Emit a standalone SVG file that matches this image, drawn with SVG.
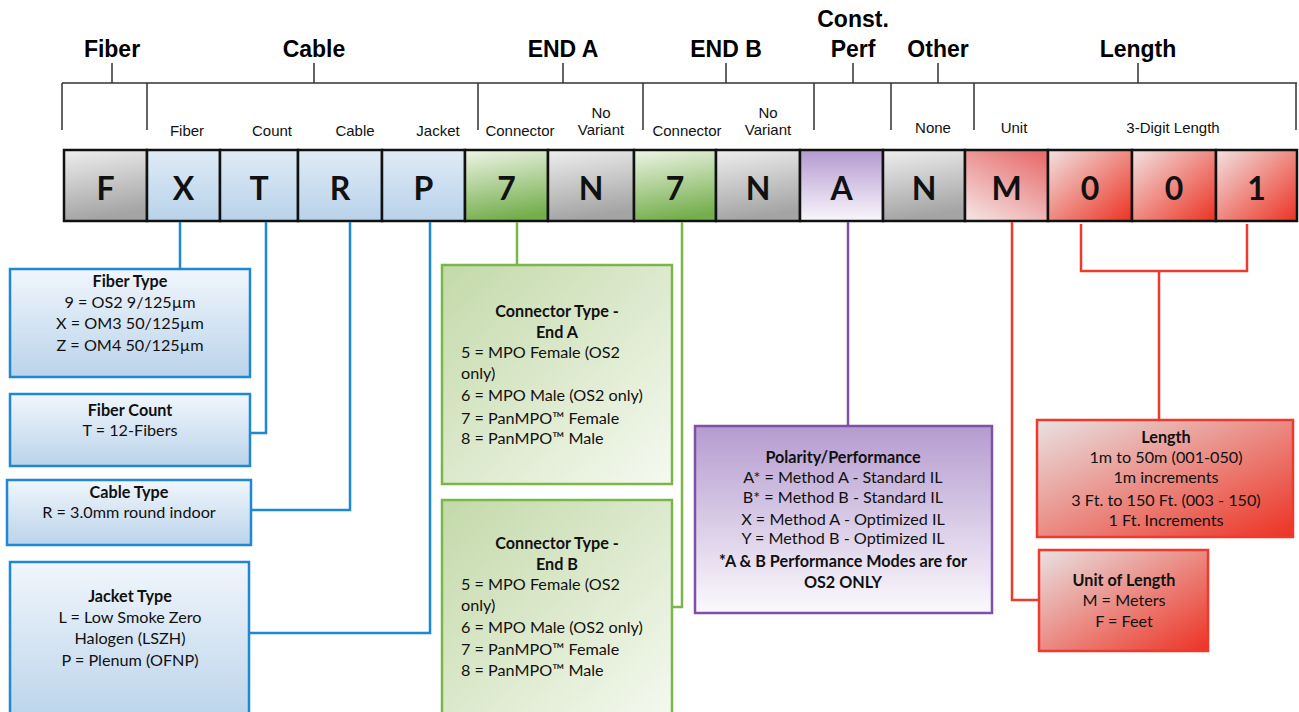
<svg xmlns="http://www.w3.org/2000/svg" width="1299" height="712" viewBox="0 0 1299 712">
<defs>
<linearGradient id="gGray" x1="0" y1="0" x2="0.2" y2="1"><stop offset="0" stop-color="#eeeeee"/><stop offset="1" stop-color="#a4a4a4"/></linearGradient>
<linearGradient id="gBlueC" x1="0" y1="0" x2="0" y2="1"><stop offset="0" stop-color="#dfebf6"/><stop offset="1" stop-color="#b8d2ea"/></linearGradient>
<linearGradient id="gGreenC" x1="0.2" y1="0" x2="0.4" y2="1"><stop offset="0" stop-color="#eaf2e1"/><stop offset="1" stop-color="#74ae4c"/></linearGradient>
<linearGradient id="gPurpleC" x1="0" y1="0" x2="0" y2="1"><stop offset="0" stop-color="#b49ad0"/><stop offset="1" stop-color="#f9f6fc"/></linearGradient>
<linearGradient id="gRedM" x1="0.8" y1="0" x2="0.2" y2="1"><stop offset="0" stop-color="#e86f6f"/><stop offset="1" stop-color="#f4dddd"/></linearGradient>
<linearGradient id="gRedC" x1="0" y1="0" x2="1" y2="1"><stop offset="0" stop-color="#f1e2e2"/><stop offset="1" stop-color="#ec3222"/></linearGradient>
<linearGradient id="gBlueB" x1="0" y1="0" x2="0" y2="1"><stop offset="0" stop-color="#f1f6fc"/><stop offset="1" stop-color="#bad3ea"/></linearGradient>
<linearGradient id="gGreenB" x1="0" y1="0" x2="1" y2="1"><stop offset="0" stop-color="#c3d9a9"/><stop offset="1" stop-color="#f5f9f0"/></linearGradient>
<linearGradient id="gPurpleB" x1="0" y1="0" x2="0" y2="1"><stop offset="0" stop-color="#b59bcf"/><stop offset="1" stop-color="#fbf9fd"/></linearGradient>
<linearGradient id="gRedB" x1="0" y1="0" x2="1" y2="1"><stop offset="0" stop-color="#e8e2e2"/><stop offset="1" stop-color="#ed3223"/></linearGradient>
</defs>
<style>
.hdr{font-family:"Liberation Sans",Arial,sans-serif;font-weight:bold;font-size:23px;fill:#000;text-anchor:middle}
.sub{font-family:"Liberation Sans",Arial,sans-serif;font-size:15px;fill:#111;text-anchor:middle}
.brk{stroke:#333;stroke-width:1.5;fill:none}
.code rect{stroke:#111;stroke-width:2.5}
.code text{font-family:Lato,"Open Sans",sans-serif;font-weight:bold;font-size:32px;fill:#111;text-anchor:middle}
.box text{font-family:Lato,"Open Sans",sans-serif;font-size:16.2px;fill:#111;text-anchor:middle}
.box text.b{font-weight:bold}
.box text.l{text-anchor:start}
.blue{stroke:#1e88d2;stroke-width:2.5}
.green{stroke:#7ab648;stroke-width:2.5}
.purple{stroke:#7e50a8;stroke-width:2.5}
.red{stroke:#ee3a2c;stroke-width:2.5}
.ln{fill:none;stroke-width:2.5}
</style>

<g id="header">
<text class="hdr" x="112" y="57">Fiber</text>
<text class="hdr" x="314" y="57">Cable</text>
<text class="hdr" x="563" y="57">END A</text>
<text class="hdr" x="726" y="57">END B</text>
<text class="hdr" x="853" y="27">Const.</text>
<text class="hdr" x="853" y="57">Perf</text>
<text class="hdr" x="938" y="57">Other</text>
<text class="hdr" x="1138" y="57">Length</text>
<path class="brk" d="M62,83 H1297 M62,83 V130 M147,83 V130 M478,83 V130 M643,83 V130 M814,83 V130 M891,83 V130 M974,83 V130 M1296,83 V130 M112,63 V83 M314,63 V83 M563,63 V83 M726,63 V83 M853,63 V83 M938,63 V83 M1138,63 V83"/>
<text class="sub" x="187" y="136">Fiber</text>
<text class="sub" x="272" y="136">Count</text>
<text class="sub" x="355" y="136">Cable</text>
<text class="sub" x="438" y="136">Jacket</text>
<text class="sub" x="520" y="136">Connector</text>
<text class="sub" x="601" y="118">No</text>
<text class="sub" x="601" y="135">Variant</text>
<text class="sub" x="687" y="136">Connector</text>
<text class="sub" x="768" y="118">No</text>
<text class="sub" x="768" y="135">Variant</text>
<text class="sub" x="933" y="133">None</text>
<text class="sub" x="1014" y="133">Unit</text>
<text class="sub" x="1173" y="133">3-Digit Length</text>
</g>

<g id="code-F" class="code"><rect x="64" y="150" width="83" height="71" fill="url(#gGray)"/><text x="105.5" y="200">F</text></g>
<g id="code-X" class="code"><rect x="147" y="150" width="73" height="71" fill="url(#gBlueC)"/><text x="183.5" y="200">X</text></g>
<g id="code-T" class="code"><rect x="220" y="150" width="78" height="71" fill="url(#gBlueC)"/><text x="259" y="200">T</text></g>
<g id="code-R" class="code"><rect x="298" y="150" width="84" height="71" fill="url(#gBlueC)"/><text x="340" y="200">R</text></g>
<g id="code-P" class="code"><rect x="382" y="150" width="83" height="71" fill="url(#gBlueC)"/><text x="423.5" y="200">P</text></g>
<g id="code-7a" class="code"><rect x="465" y="150" width="83" height="71" fill="url(#gGreenC)"/><text x="506.5" y="200">7</text></g>
<g id="code-Na" class="code"><rect x="548" y="150" width="86" height="71" fill="url(#gGray)"/><text x="591" y="200">N</text></g>
<g id="code-7b" class="code"><rect x="634" y="150" width="82" height="71" fill="url(#gGreenC)"/><text x="675" y="200">7</text></g>
<g id="code-Nb" class="code"><rect x="716" y="150" width="84" height="71" fill="url(#gGray)"/><text x="758" y="200">N</text></g>
<g id="code-A" class="code"><rect x="800" y="150" width="83" height="71" fill="url(#gPurpleC)"/><text x="841.5" y="200">A</text></g>
<g id="code-Nc" class="code"><rect x="883" y="150" width="82" height="71" fill="url(#gGray)"/><text x="924" y="200">N</text></g>
<g id="code-M" class="code"><rect x="965" y="150" width="83" height="71" fill="url(#gRedM)"/><text x="1006.5" y="200">M</text></g>
<g id="code-0a" class="code"><rect x="1048" y="150" width="84" height="71" fill="url(#gRedC)"/><text x="1090" y="200">0</text></g>
<g id="code-0b" class="code"><rect x="1132" y="150" width="84" height="71" fill="url(#gRedC)"/><text x="1174" y="200">0</text></g>
<g id="code-1" class="code"><rect x="1216" y="150" width="81" height="71" fill="url(#gRedC)"/><text x="1256.5" y="200">1</text></g>

<g id="connectors">
<path class="ln blue" d="M180,222 V269"/>
<path class="ln blue" d="M266,222 V433 H250"/>
<path class="ln blue" d="M350,222 V510 H251"/>
<path class="ln blue" d="M430,222 V633 H249"/>
<path class="ln green" d="M517,222 V265"/>
<path class="ln green" d="M682,222 V607 H672"/>
<path class="ln purple" d="M848,222 V426"/>
<path class="ln red" d="M1012,222 V600 H1039"/>
<path class="ln red" d="M1081,224 V271 H1247 V224 M1159,271 V420"/>
</g>

<g id="box-fiber-type" class="box">
<rect class="blue" x="10" y="269" width="240" height="108" fill="url(#gBlueB)"/>
<text class="b" x="130" y="287">Fiber Type</text>
<text x="130" y="308">9 = OS2 9/125µm</text>
<text x="130" y="329">X = OM3 50/125µm</text>
<text x="130" y="351">Z = OM4 50/125µm</text>
</g>
<g id="box-fiber-count" class="box">
<rect class="blue" x="10" y="394" width="240" height="72" fill="url(#gBlueB)"/>
<text class="b" x="130" y="416">Fiber Count</text>
<text x="130" y="436">T = 12-Fibers</text>
</g>
<g id="box-cable-type" class="box">
<rect class="blue" x="7" y="480" width="244" height="65" fill="url(#gBlueB)"/>
<text class="b" x="129" y="498">Cable Type</text>
<text x="129" y="518">R = 3.0mm round indoor</text>
</g>
<g id="box-jacket-type" class="box">
<rect class="blue" x="10" y="562" width="239" height="160" fill="url(#gBlueB)"/>
<text class="b" x="130" y="602">Jacket Type</text>
<text x="130" y="623">L = Low Smoke Zero</text>
<text x="130" y="644">Halogen (LSZH)</text>
<text x="130" y="666">P = Plenum (OFNP)</text>
</g>
<g id="box-conn-a" class="box">
<rect class="green" x="442" y="265" width="230" height="219" fill="url(#gGreenB)"/>
<text class="b" x="557" y="317">Connector Type -</text>
<text class="b" x="557" y="338">End A</text>
<text class="l" x="461" y="358">5 = MPO Female (OS2</text>
<text class="l" x="461" y="379">only)</text>
<text class="l" x="461" y="401">6 = MPO Male (OS2 only)</text>
<text class="l" x="461" y="424">7 = PanMPO™ Female</text>
<text class="l" x="461" y="444">8 = PanMPO™ Male</text>
</g>
<g id="box-conn-b" class="box">
<rect class="green" x="442" y="500" width="230" height="222" fill="url(#gGreenB)"/>
<text class="b" x="557" y="549">Connector Type -</text>
<text class="b" x="557" y="570">End B</text>
<text class="l" x="461" y="590">5 = MPO Female (OS2</text>
<text class="l" x="461" y="611">only)</text>
<text class="l" x="461" y="633">6 = MPO Male (OS2 only)</text>
<text class="l" x="461" y="655">7 = PanMPO™ Female</text>
<text class="l" x="461" y="676">8 = PanMPO™ Male</text>
</g>
<g id="box-polarity" class="box">
<rect class="purple" x="695" y="426" width="297" height="187" fill="url(#gPurpleB)"/>
<text class="b" x="843" y="463">Polarity/Performance</text>
<text x="843" y="483">A* = Method A - Standard IL</text>
<text x="843" y="503">B* = Method B - Standard IL</text>
<text x="843" y="525">X = Method A - Optimized IL</text>
<text x="843" y="544">Y = Method B - Optimized IL</text>
<text class="b" x="843" y="567">*A &amp; B Performance Modes are for</text>
<text class="b" x="843" y="588">OS2 ONLY</text>
</g>
<g id="box-length" class="box">
<rect class="red" x="1037" y="420" width="256" height="117" fill="url(#gRedB)"/>
<text class="b" x="1166" y="443">Length</text>
<text x="1166" y="463">1m to 50m (001-050)</text>
<text x="1166" y="483">1m increments</text>
<text x="1166" y="506">3 Ft. to 150 Ft. (003 - 150)</text>
<text x="1166" y="526">1 Ft. Increments</text>
</g>
<g id="box-unit" class="box">
<rect class="red" x="1039" y="550" width="169" height="101" fill="url(#gRedB)"/>
<text class="b" x="1124" y="586">Unit of Length</text>
<text x="1124" y="606">M = Meters</text>
<text x="1124" y="627">F = Feet</text>
</g>
</svg>
